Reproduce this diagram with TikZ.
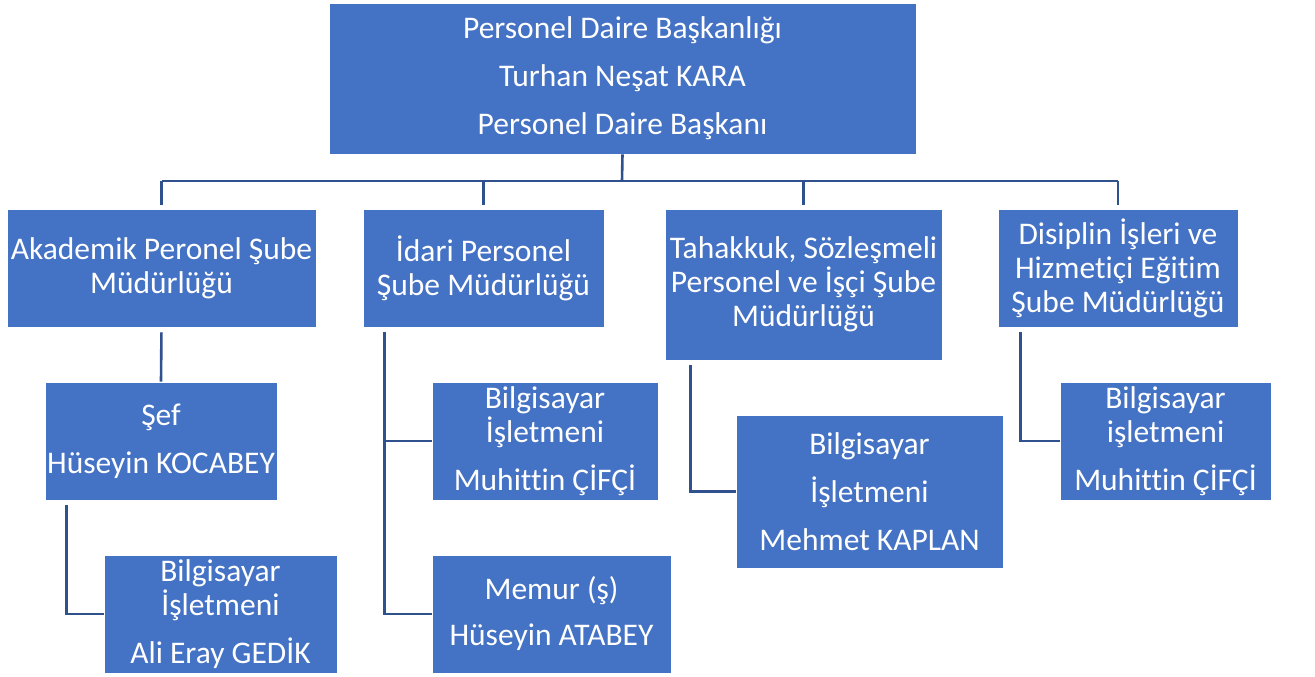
\documentclass[tikz,border=0pt]{standalone}
\usepackage{fontspec}
\setmainfont[Ligatures=NoCommon]{Carlito}
\usetikzlibrary{positioning, calc}
\definecolor{boxblue}{HTML}{4472C4}
\definecolor{linkblue}{HTML}{2F528F}

\begin{document}
\begin{tikzpicture}[x=1pt, y=-1pt,
    unit/.style={fill=boxblue, draw=white, line width=0.6pt, text=white, align=center, inner sep=0pt, font=\fontsize{31.5}{34}\selectfont},
    link/.style={linkblue, line width=2.6pt}]
\useasboundingbox (0,0) rectangle (1315,677);

% Head
\node[unit, minimum width=587, minimum height=151] (top) at (622.5,78.5) {Personel Daire Başkanlığı\\[14pt] Turhan Neşat KARA\\[14pt] Personel Daire Başkanı};

% Branch offices
\node[unit, minimum width=309, minimum height=118] (akad) at (161.5,268) {Akademik Peronel Şube\\ Müdürlüğü};
\node[unit, minimum width=241, minimum height=118] (idari) at (483.5,268) {İdari Personel\\ Şube Müdürlüğü};
\node[unit, minimum width=277, minimum height=151] (tahak) at (803.5,284.5) {Tahakkuk, Sözleşmeli\\ Personel ve İşçi Şube\\ Müdürlüğü};
\node[unit, minimum width=240, minimum height=118] (disip) at (1118,268) {Disiplin İşleri ve\\ Hizmetiçi Eğitim\\ Şube Müdürlüğü};

% Staff
\node[unit, minimum width=232, minimum height=118] (sef) at (161,441) {Şef\\[14pt] Hüseyin KOCABEY};
\node[unit, minimum width=233, minimum height=118] (ali) at (220.5,614) {Bilgisayar\\ İşletmeni\\[14pt] Ali Eray GEDİK};
\node[unit, minimum width=226, minimum height=118] (muh1) at (545,441) {Bilgisayar\\ İşletmeni\\[14pt] Muhittin ÇİFÇİ};
\node[unit, minimum width=239, minimum height=118] (memur) at (551.5,614) {Memur (ş)\\[12pt] Hüseyin ATABEY};
\node[unit, minimum width=267, minimum height=153] (mehmet) at (869.5,491.5) {Bilgisayar\\[14pt] İşletmeni\\[14pt] Mehmet KAPLAN};
\node[unit, minimum width=211, minimum height=118] (muh2) at (1165.5,441) {Bilgisayar\\ işletmeni\\[14pt] Muhittin ÇİFÇİ};

% Tree lines
\coordinate (bus) at (622,181);
\draw[link] (top.south) -- (bus);
\draw[link] (akad.north |- bus) -- (disip.north |- bus);
\foreach \n in {akad, idari, tahak, disip} {
    \draw[link, shorten >=4pt] (\n.north |- bus) -- (\n.north);
}
\draw[link, shorten <=5pt] (akad.south) -- (sef.north);
\draw[link, shorten <=5pt] ([xshift=22pt]sef.south west) |- (ali.west);
\draw[link, shorten <=5pt] ([xshift=22pt]idari.south west) |- (muh1.west);
\draw[link, shorten <=5pt] ([xshift=22pt]idari.south west) |- (memur.west);
\draw[link, shorten <=5pt] ([xshift=26pt]tahak.south west) |- (mehmet.west);
\draw[link, shorten <=5pt] ([xshift=23pt]disip.south west) |- (muh2.west);
\end{tikzpicture}
\end{document}
